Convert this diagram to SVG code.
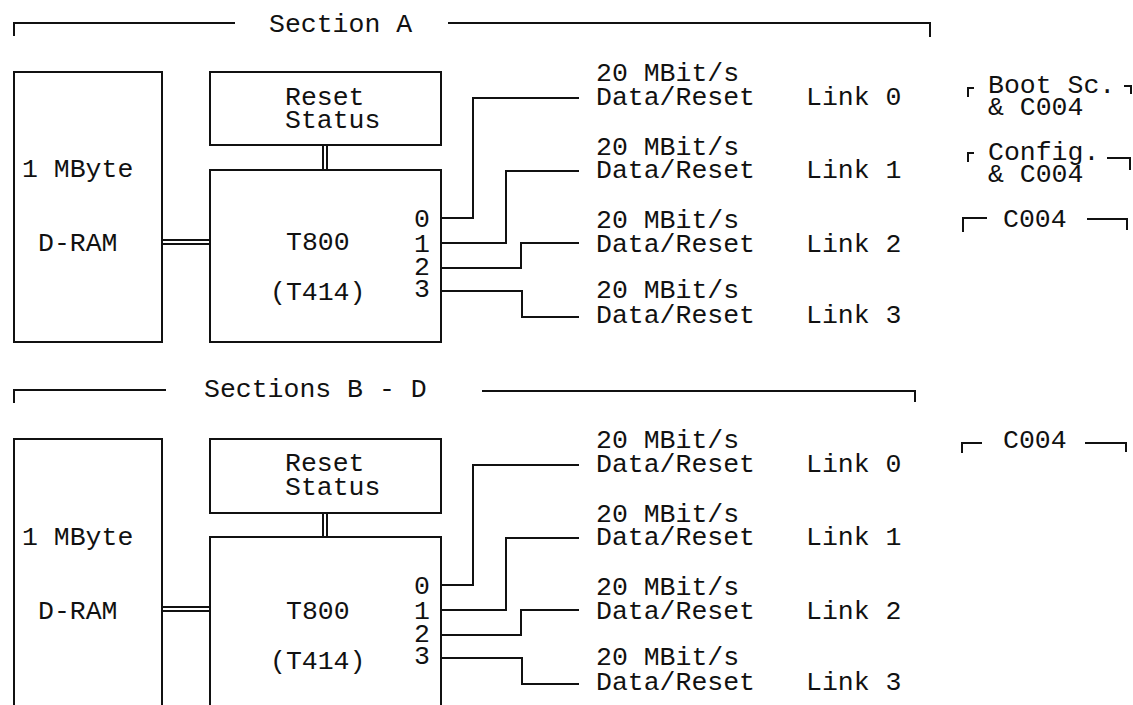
<svg xmlns="http://www.w3.org/2000/svg" width="1133" height="705" viewBox="0 0 1133 705">
<style>
text{font-family:"Liberation Mono","DejaVu Sans Mono",monospace;font-size:26.5px;fill:#111}
.ln{fill:none;stroke:#111;stroke-width:2}
.box{fill:none;stroke:#111;stroke-width:2}
</style>
<rect width="1133" height="705" fill="#fff"/>
<g id="sectionA">
  <g id="headerA">
    <path class="ln" d="M14,36 V23 H235"/>
    <text x="269" y="32">Section A</text>
    <path class="ln" d="M448,23 H930 V37"/>
  </g>
  <g id="memA">
    <rect class="box" x="14" y="72" width="148" height="270"/>
    <text x="22" y="177">1 MByte</text>
    <text x="38" y="251">D-RAM</text>
  </g>
  <g id="resetA">
    <rect class="box" x="210" y="72" width="231" height="73"/>
    <text x="285" y="105">Reset</text>
    <text x="285" y="128">Status</text>
  </g>
  <g id="cpuA">
    <rect class="box" x="210" y="170" width="231" height="172"/>
    <text x="286" y="250">T800</text>
    <text x="270" y="300">(T414)</text>
    <text x="414" y="227">0</text>
    <text x="414" y="252">1</text>
    <text x="414" y="275">2</text>
    <text x="414" y="297">3</text>
  </g>
  <g id="linksA">
    <text x="596" y="81">20 MBit/s</text>
    <text x="596" y="105">Data/Reset</text>
    <text x="806" y="105">Link 0</text>
    <text x="596" y="155">20 MBit/s</text>
    <text x="596" y="178">Data/Reset</text>
    <text x="806" y="178">Link 1</text>
    <text x="596" y="228">20 MBit/s</text>
    <text x="596" y="252">Data/Reset</text>
    <text x="806" y="252">Link 2</text>
    <text x="596" y="298">20 MBit/s</text>
    <text x="596" y="323">Data/Reset</text>
    <text x="806" y="323">Link 3</text>
  </g>
  <g id="notesA">
    <path class="ln" d="M968,97 V88 H974"/>
    <text x="988" y="93">Boot Sc.</text>
    <path class="ln" d="M1124,86 H1131 V94"/>
    <text x="988" y="115">&amp; C004</text>
    <path class="ln" d="M968,162 V153 H974"/>
    <text x="988" y="160">Config.</text>
    <path class="ln" d="M1107,158 H1130 V170"/>
    <text x="988" y="182">&amp; C004</text>
    <path class="ln" d="M963,232 V218 H987"/>
    <text x="1003" y="227">C004</text>
    <path class="ln" d="M1087,219 H1127 V230"/>
  </g>
</g>
<g id="sectionBD">
  <g id="headerBD">
    <path class="ln" d="M14,403 V390 H166"/>
    <text x="204" y="397">Sections B - D</text>
    <path class="ln" d="M482,391 H915 V402"/>
  </g>
  <g id="memBD">
    <path class="box" d="M14,706 V439 H162 V706"/>
    <text x="22" y="545">1 MByte</text>
    <text x="38" y="619">D-RAM</text>
  </g>
  <g id="resetBD">
    <rect class="box" x="210" y="439" width="231" height="74"/>
    <text x="285" y="471">Reset</text>
    <text x="285" y="495">Status</text>
  </g>
  <g id="cpuBD">
    <path class="box" d="M210,706 V537 H441 V706"/>
    <text x="286" y="619">T800</text>
    <text x="270" y="669">(T414)</text>
    <text x="414" y="594">0</text>
    <text x="414" y="619">1</text>
    <text x="414" y="642">2</text>
    <text x="414" y="664">3</text>
  </g>
  <g id="linksBD">
    <text x="596" y="448">20 MBit/s</text>
    <text x="596" y="472">Data/Reset</text>
    <text x="806" y="472">Link 0</text>
    <text x="596" y="522">20 MBit/s</text>
    <text x="596" y="545">Data/Reset</text>
    <text x="806" y="545">Link 1</text>
    <text x="596" y="595">20 MBit/s</text>
    <text x="596" y="619">Data/Reset</text>
    <text x="806" y="619">Link 2</text>
    <text x="596" y="665">20 MBit/s</text>
    <text x="596" y="690">Data/Reset</text>
    <text x="806" y="690">Link 3</text>
  </g>
  <g id="notesBD">
    <path class="ln" d="M962,453 V443 H982"/>
    <text x="1003" y="448">C004</text>
    <path class="ln" d="M1085,443 H1126 V452"/>
  </g>
</g>
<g id="connectors" class="ln">
  <path d="M162,240 H210 M162,244 H210"/>
  <path d="M323,145 V170 M327,145 V170"/>
  <path d="M441,218 H473 V98 H579"/>
  <path d="M441,243 H506 V171 H579"/>
  <path d="M441,268 H521 V243 H579"/>
  <path d="M441,291 H522 V317 H579"/>
  <path d="M162,607 H210 M162,611 H210"/>
  <path d="M323,513 V537 M327,513 V537"/>
  <path d="M441,585 H473 V465 H579"/>
  <path d="M441,610 H506 V538 H579"/>
  <path d="M441,635 H521 V610 H579"/>
  <path d="M441,658 H522 V684 H579"/>
</g>
</svg>
